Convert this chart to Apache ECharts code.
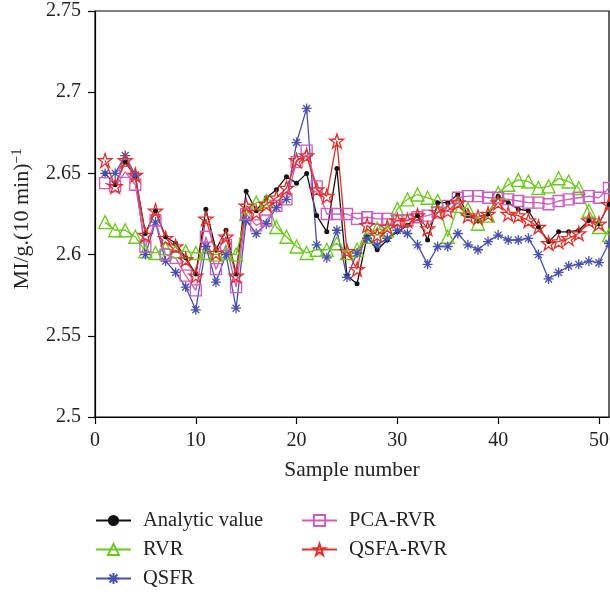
<!DOCTYPE html>
<html>
<head>
<meta charset="utf-8">
<script src="https://cdn.jsdelivr.net/npm/echarts@6/dist/echarts.min.js"></script>
<style>
html,body{margin:0;padding:0;background:#fff;}
#chart{width:610px;height:592px;}
</style>
</head>
<body>
<div id="chart"></div>
<script>
var samples = [1,2,3,4,5,6,7,8,9,10,11,12,13,14,15,16,17,18,19,20,21,22,23,24,25,26,27,28,29,30,31,32,33,34,35,36,37,38,39,40,41,42,43,44,45,46,47,48,49,50,51];

var analyticValue = [2.650,2.643,2.657,2.648,2.613,2.627,2.611,2.607,2.598,2.588,
  2.628,2.603,2.615,2.588,2.639,2.627,2.635,2.640,2.648,2.644,
  2.650,2.624,2.614,2.653,2.587,2.582,2.611,2.603,2.609,2.614,
  2.618,2.624,2.609,2.632,2.632,2.637,2.624,2.621,2.625,2.636,
  2.632,2.628,2.627,2.617,2.608,2.614,2.614,2.615,2.621,2.619,2.631];

var rvr = [2.620,2.615,2.615,2.611,2.602,2.601,2.604,2.602,2.602,2.601,
  2.601,2.600,2.601,2.600,2.625,2.632,2.633,2.617,2.611,2.605,
  2.601,2.603,2.603,2.607,2.601,2.603,2.611,2.616,2.615,2.628,
  2.634,2.637,2.635,2.633,2.611,2.630,2.628,2.619,2.624,2.638,
  2.643,2.646,2.645,2.641,2.642,2.647,2.645,2.641,2.627,2.617,2.612];

var qsfr = [2.650,2.650,2.661,2.649,2.600,2.620,2.596,2.589,2.580,2.566,
  2.605,2.583,2.600,2.567,2.621,2.613,2.619,2.629,2.634,2.669,
  2.690,2.606,2.598,2.615,2.586,2.601,2.610,2.606,2.610,2.615,
  2.613,2.606,2.594,2.605,2.605,2.613,2.606,2.603,2.608,2.612,
  2.609,2.609,2.610,2.600,2.585,2.589,2.593,2.594,2.596,2.595,2.607];

var pcaRvr = [2.644,2.642,2.651,2.643,2.605,2.621,2.600,2.598,2.587,2.578,
  2.611,2.591,2.606,2.580,2.625,2.618,2.621,2.630,2.634,2.657,
  2.664,2.642,2.625,2.625,2.625,2.622,2.623,2.622,2.622,2.621,
  2.621,2.623,2.624,2.626,2.630,2.635,2.636,2.636,2.635,2.635,
  2.634,2.633,2.632,2.632,2.631,2.633,2.634,2.635,2.636,2.635,2.641];

var qsfaRvr = [2.658,2.642,2.658,2.649,2.612,2.627,2.610,2.605,2.597,2.587,
  2.622,2.601,2.611,2.587,2.630,2.626,2.631,2.635,2.641,2.658,
  2.661,2.640,2.636,2.670,2.602,2.591,2.618,2.612,2.617,2.621,
  2.621,2.624,2.616,2.626,2.627,2.632,2.624,2.623,2.625,2.632,
  2.625,2.624,2.621,2.617,2.607,2.608,2.610,2.613,2.621,2.619,2.631];

var seriesNames = ['Analytic value','RVR','QSFR','PCA-RVR','QSFA-RVR'];
var xTicks = [0,10,20,30,40,50];
var yTicks = [2.5,2.55,2.6,2.65,2.7,2.75];

var FONT = 'Liberation Serif';
var starPath = 'path://M10,0L12.245,6.910L19.511,6.910L13.633,11.180L15.878,18.090L10,13.82L4.122,18.090L6.367,11.180L0.489,6.910L7.755,6.910Z';
var asteriskPath = 'path://M0,5L10,5M5,0L5,10M1.5,1.5L8.5,8.5M8.5,1.5L1.5,8.5';

function pairs(vals){
  var out = [];
  for (var i = 0; i < samples.length; i++) out.push([samples[i], vals[i]]);
  return out;
}

function mk(name, vals, color, symbol, size, filled){
  return {
    name: name,
    type: 'line',
    data: pairs(vals),
    symbol: symbol,
    symbolSize: size,
    showAllSymbol: true,
    lineStyle: {color: color, width: 1.3},
    itemStyle: filled ? {color: color, borderColor: color, borderWidth: 0}
                      : {color: 'rgba(255,255,255,0)', borderColor: color, borderWidth: 1.3},
    emphasis: {disabled: true},
    animation: false
  };
}

var legendCommon = {
  orient: 'vertical', top: 510, padding: 0,
  itemWidth: 35, itemHeight: 14, itemGap: 8,
  textStyle: {fontFamily: FONT, fontSize: 20.5, color: '#222', lineHeight: 20, padding: [0,0,0,7]},
  selectedMode: false
};

var chart = echarts.init(document.getElementById('chart'), null, {renderer: 'canvas'});
chart.setOption({
  animation: false,
  backgroundColor: '#fff',
  grid: {left: 95, right: 1, top: 11, bottom: 175, show: true, borderColor: '#000', borderWidth: 1.2, backgroundColor: 'transparent', containLabel: false, outerBoundsMode: 'none'},
  xAxis: {
    type: 'value', min: 0, max: 51, interval: 10,
    name: 'Sample number', nameLocation: 'middle', nameGap: 42,
    nameTextStyle: {fontFamily: FONT, fontSize: 21.5, color: '#222'},
    axisLine: {show: true, lineStyle: {color: '#000', width: 1.2}},
    axisTick: {show: true, inside: false, length: 7, customValues: xTicks, lineStyle: {color: '#000', width: 1.2}},
    axisLabel: {fontFamily: FONT, fontSize: 20, color: '#222', margin: 14, customValues: xTicks,
      formatter: function(v){ return xTicks.indexOf(v) >= 0 ? String(v) : ''; }},
    splitLine: {show: false}
  },
  yAxis: {
    type: 'value', min: yTicks[0], max: yTicks[yTicks.length-1], interval: 0.05,
    name: '{a|MI/g.(10 min)}{b|\u22121}', nameLocation: 'middle', nameGap: 61, nameRotate: 90,
    nameTextStyle: {fontFamily: FONT, fontSize: 22, color: '#222', padding: [0, 10, 0, 0],
      rich: {a: {fontFamily: FONT, fontSize: 22, color: '#222', lineHeight: 24},
             b: {fontFamily: FONT, fontSize: 14, color: '#222', lineHeight: 14, verticalAlign: 'top'}}},
    axisLine: {show: true, lineStyle: {color: '#000', width: 1.2}},
    axisTick: {show: true, inside: false, length: 7, lineStyle: {color: '#000', width: 1.2}},
    axisLabel: {fontFamily: FONT, fontSize: 20, color: '#222', margin: 14,
      formatter: function(v){ return String(Math.round(v*100)/100); }},
    splitLine: {show: false}
  },
  legend: [
    Object.assign({data: [seriesNames[0], seriesNames[1], seriesNames[2]], left: 95}, legendCommon),
    Object.assign({data: [seriesNames[3], seriesNames[4]], left: 301}, legendCommon)
  ],
  series: [
    mk(seriesNames[0], analyticValue, '#111111', 'circle', 5, true),
    mk(seriesNames[1], rvr, '#6cc81c', 'triangle', 13, false),
    mk(seriesNames[2], qsfr, '#4750ad', asteriskPath, 10, false),
    mk(seriesNames[3], pcaRvr, '#cc5cbf', 'rect', 11, false),
    mk(seriesNames[4], qsfaRvr, '#e3302a', starPath, 14, false)
  ]
});
</script>
</body>
</html>
